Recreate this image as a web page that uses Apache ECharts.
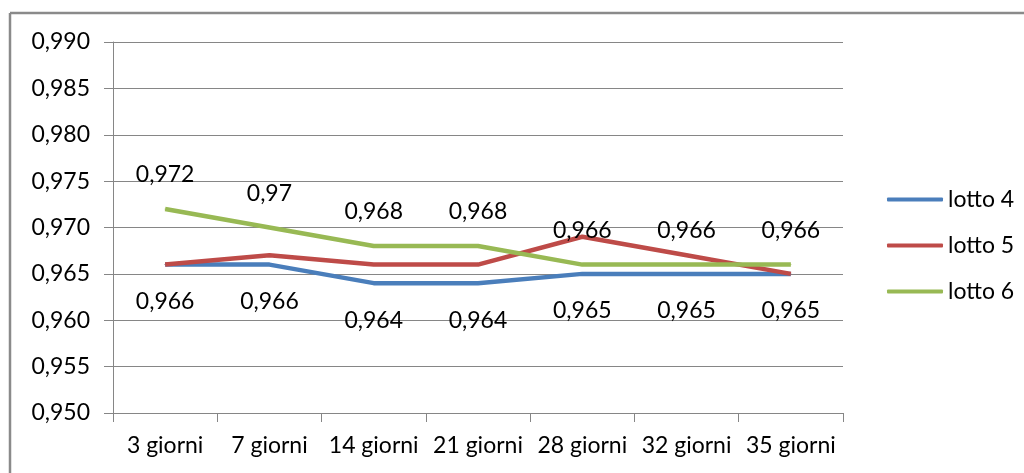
<!DOCTYPE html>
<html>
<head>
<meta charset="utf-8">
<script src="https://cdn.jsdelivr.net/npm/echarts@6/dist/echarts.min.js"></script>
<style>
  html, body { margin: 0; padding: 0; background: #fff; }
  #chart { width: 1024px; height: 473px; }
</style>
</head>
<body>
<div id="chart"></div>
<script>
const categories = ['3 giorni', '7 giorni', '14 giorni', '21 giorni', '28 giorni', '32 giorni', '35 giorni'];
const lotto4 = [0.966, 0.966, 0.964, 0.964, 0.965, 0.965, 0.965];
const lotto5 = [0.966, 0.967, 0.966, 0.966, 0.969, 0.967, 0.965];
const lotto6 = [0.972, 0.97, 0.968, 0.968, 0.966, 0.966, 0.966];
const seriesNames = ['lotto 4', 'lotto 5', 'lotto 6'];
const seriesColors = ['#4A7EBB', '#BE4B48', '#98B954'];

const FONT = 'Lato';
const FONT_SIZE = 23;
const comma = v => String(v).replace('.', ',');

const chart = echarts.init(document.getElementById('chart'), null, { renderer: 'canvas' });

function lineSeries(name, data, color, label) {
  return {
    name: name,
    type: 'line',
    data: data,
    symbol: 'circle',
    symbolSize: 1,
    itemStyle: { color: color },
    lineStyle: { color: color, width: 4.5 },
    emphasis: { disabled: true },
    label: label ? Object.assign({
      show: true,
      color: '#000',
      fontFamily: FONT,
      fontSize: FONT_SIZE,
      formatter: p => comma(p.value)
    }, label) : { show: false }
  };
}

chart.setOption({
  animation: false,
  backgroundColor: '#fff',
  grid: { left: 113, right: 181, top: 42, bottom: 60 },
  xAxis: {
    type: 'category',
    data: categories,
    boundaryGap: true,
    axisLine: { lineStyle: { color: '#868686', width: 1 } },
    axisTick: { show: true, length: 9, lineStyle: { color: '#868686' } },
    axisLabel: { color: '#000', fontFamily: FONT, fontSize: FONT_SIZE, margin: 21, interval: 0 }
  },
  yAxis: {
    type: 'value',
    min: 0.95,
    max: 0.99,
    interval: 0.005,
    axisLine: { show: true, lineStyle: { color: '#868686', width: 1 } },
    axisTick: { show: true, length: 9, lineStyle: { color: '#868686' } },
    splitLine: { lineStyle: { color: '#868686', width: 1 } },
    axisLabel: {
      color: '#000', fontFamily: FONT, fontSize: FONT_SIZE, margin: 23,
      formatter: v => v.toFixed(3).replace('.', ',')
    }
  },
  legend: {
    orient: 'vertical',
    left: 882,
    top: 183,
    icon: 'roundRect',
    itemWidth: 56,
    itemHeight: 4,
    itemGap: 23,
    textStyle: { color: '#000', fontFamily: FONT, fontSize: FONT_SIZE },
    data: seriesNames
  },
  graphic: [
    { type: 'line', shape: { x1: 10, y1: 13, x2: 1024, y2: 13 }, style: { stroke: '#8a8a8a', lineWidth: 2.5 } },
    { type: 'line', shape: { x1: 10, y1: 13, x2: 10, y2: 473 }, style: { stroke: '#8a8a8a', lineWidth: 2.5 } }
  ],
  series: [
    lineSeries(seriesNames[0], lotto4, seriesColors[0], { position: 'bottom', distance: 25 }),
    lineSeries(seriesNames[1], lotto5, seriesColors[1], null),
    lineSeries(seriesNames[2], lotto6, seriesColors[2], { position: 'top', distance: 22 })
  ]
});
</script>
</body>
</html>
